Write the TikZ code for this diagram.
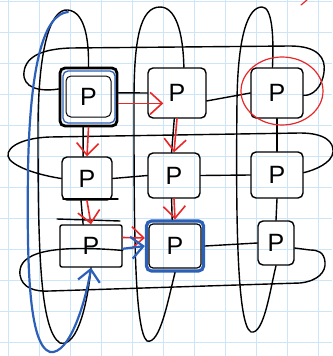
\documentclass[tikz,border=0pt]{standalone}
\usepackage{fontspec}
\setsansfont{Liberation Sans}
\usetikzlibrary{arrows.meta}
\definecolor{gridc}{RGB}{204,230,248}
\definecolor{redc}{RGB}{232,40,40}
\definecolor{bluec}{RGB}{44,96,184}
\tikzset{
  pbox/.style={draw=black, rounded corners=5pt, line width=1.4pt, inner sep=0pt,
    font=\sffamily\fontsize{25}{25}\selectfont},
  sk/.style={draw=black, line width=1.4pt, line cap=round, line join=round},
  redarrow/.style={draw=redc, line width=1.6pt, line cap=round,
    -{Straight Barb[length=12pt,width=22pt,line width=1.6pt]}},
  bluearrow/.style={draw=bluec, line width=2.2pt, line cap=round,
    -{Straight Barb[length=12pt,width=22pt,line width=2.2pt]}},
}
\begin{document}
\begin{tikzpicture}[x=1pt,y=-1pt]
\useasboundingbox (0,0) rectangle (332,356);
\fill[white] (0,0) rectangle (332,356);
% grid
\foreach \x in {8,39,...,318} \draw[gridc, line width=1pt] (\x,0) -- (\x,356);
\foreach \y in {1,32,...,342} \draw[gridc, line width=1pt] (0,\y) -- (332,\y);

% boxes
\node[pbox, minimum width=57pt, minimum height=58pt, line width=2.8pt] (b11) at (88.5,97) {P};
\node[pbox, minimum width=58pt, minimum height=50pt] (b12) at (177,93) {P};
\node[pbox, minimum width=52pt, minimum height=50pt] (b13) at (277,93) {P};
\node[pbox, minimum width=50pt, minimum height=43pt] (b21) at (87,178.5) {P};
\node[pbox, minimum width=52pt, minimum height=45pt] (b22) at (174,175.5) {P};
\node[pbox, minimum width=52pt, minimum height=46pt] (b23) at (277,175) {P};
\node[pbox, minimum width=62pt, minimum height=42pt, rounded corners=2pt] (b31) at (91,246) {P};
\node[pbox, minimum width=57pt, minimum height=50pt, draw=bluec, line width=3.2pt] (b32) at (175,246) {P};
\node[pbox, minimum width=36pt, minimum height=44pt] (b33) at (276,243) {P};

% extra sketch strokes on boxes
\draw[sk, line width=1pt, rounded corners=5pt] (66,76) rectangle (111,117);
\draw[draw=bluec, line width=1.3pt, rounded corners=5pt] (63,71) rectangle (115,123);
\draw[sk, line width=1.2pt, rounded corners=4pt] (149,224) rectangle (201,268);
\draw[sk] (63,199) -- (118,199);
\draw[sk] (57,219) -- (120,221);

% row wrap loops
\draw[sk] (b11.165) .. controls (40,92) and (22,88) .. (24,72)
  .. controls (26,55) and (45,49) .. (70,48) -- (290,46)
  .. controls (318,46) and (326,58) .. (324,72)
  .. controls (322,88) and (312,96) .. (b13.-5);
\draw[sk] (b21.west) .. controls (45,176) and (20,170) .. (10,160)
  .. controls (2,150) and (18,138) .. (50,137) -- (300,133)
  .. controls (325,133) and (334,142) .. (333,152)
  .. controls (332,163) and (315,170) .. (b23.5);
\draw[sk] (b31.-8) .. controls (35,243) and (18,258) .. (20,275)
  .. controls (22,288) and (35,292) .. (50,291) -- (300,283)
  .. controls (318,281) and (326,272) .. (325,262)
  .. controls (324,252) and (318,250) .. (310,250) -- (b33.-15);

% column wrap loops
\draw[sk] (b11.north) .. controls (89,40) and (85,12) .. (68,10)
  .. controls (50,8) and (38,50) .. (38,130)
  .. controls (38,250) and (40,330) .. (60,343)
  .. controls (78,348) and (88,300) .. (b31.south);
\draw[sk] (b12.75) .. controls (183,30) and (175,7) .. (160,7)
  .. controls (140,7) and (134,40) .. (134,100)
  .. controls (134,220) and (134,330) .. (147,341)
  .. controls (160,345) and (168,300) .. (b32.south);
\draw[sk] (b13.100) .. controls (274,35) and (272,7) .. (262,7)
  .. controls (248,7) and (238,35) .. (237,100)
  .. controls (236,200) and (236,325) .. (251,332)
  .. controls (264,335) and (270,290) .. (b33.south);

% grid connectors
\draw[sk] (b11.8) -- (b12.west);
\draw[sk] (b12.-15) -- (b13.west);
\draw[sk] (b21.east) -- (b22.west);
\draw[sk] (b22.east) -- (b23.west);
\draw[sk] (b32.east) -- (b33.west);
\draw[sk] (b11.-100) -- (b21.100);
\draw[sk] (b12.-96) -- (b22.96);
\draw[sk] (b13.south) -- (b23.north);
\draw[sk] (b23.south) -- (b33.north);
\draw[sk] (b21.-105) -- (b31.110);
\draw[sk] (b22.-96) -- (b32.96);

% red arrows
\draw[redarrow] (b11.-12) -- ([xshift=16pt]b12.west |- b11.-12);
\draw[redarrow] (b11.south) -- (b21.north);
\draw[redarrow] (b12.south) -- (b22.north);
\draw[redarrow] (b21.south) -- (b31.north);
\draw[redarrow] (b22.south) -- (b32.north);
\draw[redarrow] (b31.15) -- (b32.165);
\draw[draw=redc, line width=1.2pt] (282,91) ellipse [x radius=41, y radius=34];
\draw[draw=redc, line width=1.2pt, line cap=round] (301,5) -- (307,0);

% blue path
\coordinate (bstart) at (68,12);
\draw[bluearrow] (bstart) .. controls (45,14) and (30,60) .. (28,170)
  .. controls (27,260) and (28,345) .. (50,352)
  .. controls (70,355) and (86,300) .. (b31.south);
\draw[bluearrow] (b31.-5) -- (b32.west);
\end{tikzpicture}
\end{document}
